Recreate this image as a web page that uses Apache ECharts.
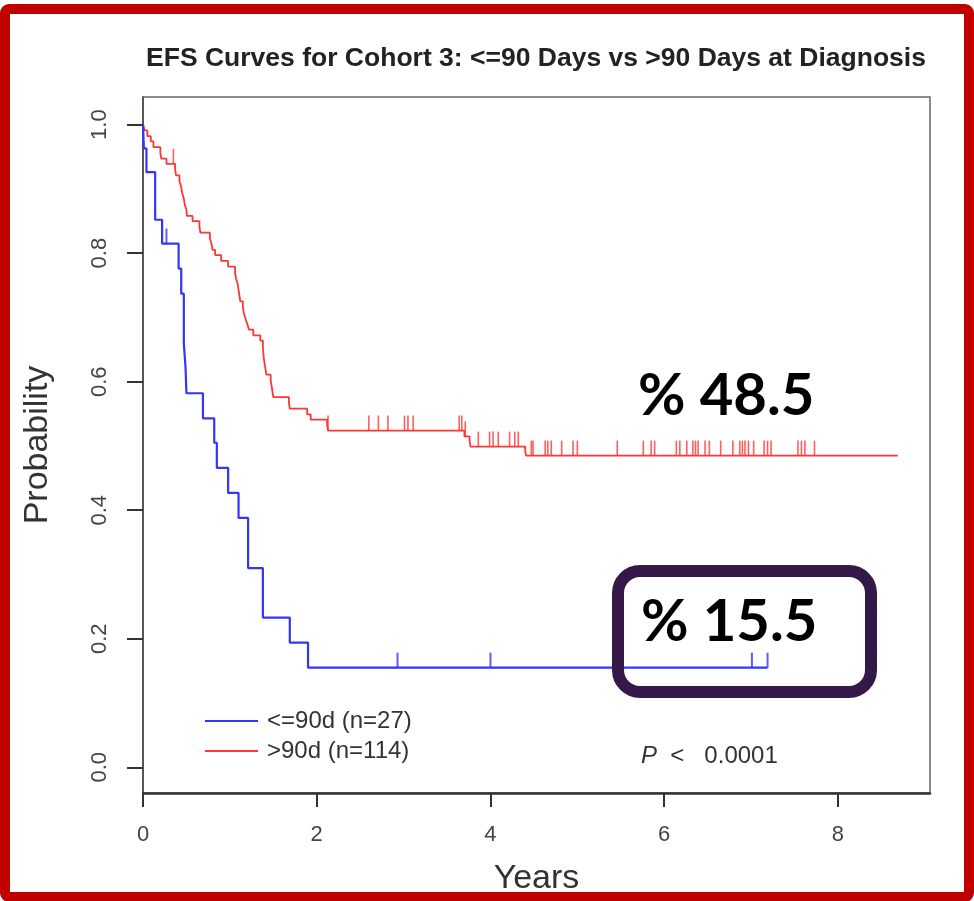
<!DOCTYPE html>
<html>
<head>
<meta charset="utf-8">
<script src="https://cdn.jsdelivr.net/npm/echarts@6/dist/echarts.min.js"></script>
<style>
  html, body { margin: 0; padding: 0; background: #fff; }
  #chart { width: 974px; height: 901px; }
</style>
</head>
<body>
<div id="chart"></div>
<script>
// Kaplan-Meier steps (years, survival)
const blueTimes = [0, 0.01, 0.04, 0.14, 0.22, 0.41, 0.44, 0.47, 0.49, 0.50, 0.69, 0.82, 0.85, 0.98, 1.10, 1.21, 1.38, 1.69, 1.90, 7.19];
const blueSurv = [1.0, 0.963, 0.926, 0.852, 0.815, 0.776, 0.737, 0.660, 0.621, 0.582, 0.543, 0.505, 0.466, 0.427, 0.388, 0.310, 0.233, 0.194, 0.155, 0.155];
const blueCensorTimes = [0.27, 2.93, 4.00, 7.01, 7.19];
const blueCensorSurv = [0.815, 0.155, 0.155, 0.155, 0.155];

const redTimes = [0, 0.02, 0.05, 0.09, 0.12, 0.20, 0.21, 0.27, 0.37, 0.38, 0.42, 0.44, 0.45, 0.47, 0.48, 0.50, 0.505,
  0.57, 0.65, 0.66, 0.77, 0.79, 0.80, 0.83, 0.90, 0.98, 1.06, 1.07, 1.09, 1.10, 1.11, 1.12, 1.15, 1.16, 1.18, 1.20,
  1.22, 1.27, 1.35, 1.38, 1.385, 1.39, 1.40, 1.41, 1.42, 1.47, 1.48, 1.49, 1.50, 1.68, 1.69, 1.89, 1.93, 2.12, 2.13,
  3.70, 3.76, 3.77, 4.40, 4.41, 8.69];
const redSurv = [1.0, 0.991, 0.982, 0.974, 0.965, 0.956, 0.947, 0.939, 0.930, 0.921, 0.912, 0.903, 0.894, 0.885, 0.876, 0.867, 0.858,
  0.850, 0.841, 0.832, 0.823, 0.814, 0.805, 0.797, 0.788, 0.779, 0.770, 0.761, 0.752, 0.743, 0.734, 0.725, 0.716, 0.707, 0.698, 0.690,
  0.681, 0.672, 0.664, 0.655, 0.646, 0.637, 0.628, 0.620, 0.611, 0.602, 0.594, 0.585, 0.576, 0.567, 0.558, 0.549, 0.541, 0.532, 0.524,
  0.515, 0.507, 0.499, 0.492, 0.485, 0.485];
const redCensorTimes = [0.35, 2.13, 2.60, 2.71, 2.82, 3.01, 3.05, 3.11, 3.64, 3.67, 3.71,
  3.86, 3.99, 4.03, 4.09, 4.22, 4.28, 4.32,
  4.47, 4.49, 4.63, 4.66, 4.70, 4.82, 4.95, 5.00, 5.46, 5.76, 5.85, 5.89, 6.14, 6.18, 6.26, 6.33, 6.36, 6.39,
  6.47, 6.52, 6.65, 6.79, 6.87, 6.90, 6.93, 6.97, 7.03, 7.15, 7.19, 7.23, 7.54, 7.58, 7.62, 7.73];
const redCensorSurv = [0.939, 0.524, 0.524, 0.524, 0.524, 0.524, 0.524, 0.524, 0.524, 0.524, 0.515,
  0.499, 0.499, 0.499, 0.499, 0.499, 0.499, 0.499,
  0.485, 0.485, 0.485, 0.485, 0.485, 0.485, 0.485, 0.485, 0.485, 0.485, 0.485, 0.485, 0.485, 0.485, 0.485, 0.485, 0.485, 0.485,
  0.485, 0.485, 0.485, 0.485, 0.485, 0.485, 0.485, 0.485, 0.485, 0.485, 0.485, 0.485, 0.485, 0.485, 0.485, 0.485];

const groupNames = ['<=90d (n=27)', '>90d (n=114)'];
const xTicks = [0, 2, 4, 6, 8];
const yTicks = [0, 0.2, 0.4, 0.6, 0.8, 1.0];

const blue = '#3434ff';
const red = '#ff3636';

const zip = (a, b) => a.map((v, i) => [v, b[i]]);

const chart = echarts.init(document.getElementById('chart'), null, { renderer: 'canvas' });

chart.setOption({
  backgroundColor: '#fff',
  animation: false,
  textStyle: { fontFamily: '"Liberation Sans", Arial, sans-serif' },
  grid: {
    left: 143, right: 44, top: 97, bottom: 104,
    show: true, borderColor: '#666', borderWidth: 1.5,
  },
  legend: {
    data: groupNames,
    orient: 'vertical',
    left: 200,
    top: 704,
    icon: 'rect',
    itemWidth: 53,
    itemHeight: 2.2,
    itemGap: 6,
    textStyle: { fontSize: 24, color: '#333', padding: [0, 0, 0, 4] },
  },
  xAxis: {
    type: 'value',
    min: 0,
    max: 9.06,
    axisLine: { show: true, onZero: false, lineStyle: { color: '#333', width: 2.5 } },
    axisTick: { show: true, customValues: xTicks, length: 14, lineStyle: { color: '#333', width: 2 } },
    axisLabel: { customValues: xTicks, fontSize: 22, color: '#444', margin: 31 },
    splitLine: { show: false },
    name: 'Years',
    nameLocation: 'middle',
    nameGap: 69,
    nameTextStyle: { fontSize: 34, color: '#333' },
  },
  yAxis: {
    type: 'value',
    min: -0.04,
    max: 1.043,
    axisLine: { show: true, onZero: false, lineStyle: { color: '#444', width: 1.5 } },
    axisTick: { show: true, customValues: yTicks, length: 16, lineStyle: { color: '#333', width: 2 } },
    axisLabel: {
      customValues: yTicks, fontSize: 22, color: '#444', rotate: 90, margin: 32,
      formatter: (v) => v.toFixed(1),
    },
    splitLine: { show: false },
    name: 'Probability',
    nameLocation: 'middle',
    nameGap: 88,
    nameTextStyle: { fontSize: 34, color: '#333' },
  },
  series: [
    {
      name: groupNames[0],
      type: 'line',
      step: 'end',
      symbol: 'none',
      data: zip(blueTimes, blueSurv),
      lineStyle: { color: blue, width: 2.2 },
      itemStyle: { color: blue },
      z: 4,
    },
    {
      name: groupNames[1],
      type: 'line',
      step: 'end',
      symbol: 'none',
      data: zip(redTimes, redSurv),
      lineStyle: { color: red, width: 1.8 },
      itemStyle: { color: red },
      z: 3,
    },
    {
      type: 'scatter',
      symbol: 'rect',
      symbolSize: [2, 15],
      symbolOffset: [0, -7.5],
      data: zip(blueCensorTimes, blueCensorSurv),
      itemStyle: { color: blue },
      z: 4,
    },
    {
      type: 'scatter',
      symbol: 'rect',
      symbolSize: [1.6, 15],
      symbolOffset: [0, -7.5],
      data: zip(redCensorTimes, redCensorSurv),
      itemStyle: { color: red },
      z: 3,
    },
  ],
  graphic: [
    {
      type: 'text', x: 536, y: 59, z: 10,
      style: {
        text: 'EFS Curves for Cohort 3: <=90 Days vs >90 Days at Diagnosis',
        font: 'bold 26.5px "Liberation Sans", Arial, sans-serif',
        fill: '#222', textAlign: 'center', textVerticalAlign: 'middle',
      },
    },
    {
      type: 'text', x: 638, y: 396, z: 10,
      style: { text: '% 48.5', font: 'bold 58px Lato, sans-serif', fill: '#000', textVerticalAlign: 'middle' },
    },
    {
      type: 'text', x: 641, y: 622, z: 10,
      style: { text: '% 15.5', font: 'bold 58px Lato, sans-serif', fill: '#000', textVerticalAlign: 'middle' },
    },
    {
      type: 'rect', z: 10,
      shape: { x: 618, y: 571, width: 253, height: 121, r: 22 },
      style: { fill: null, stroke: '#341848', lineWidth: 12 },
    },
    {
      type: 'text', x: 641, y: 756, z: 10,
      style: {
        text: '{i|P}  <   0.0001',
        font: '24px "Liberation Sans", Arial, sans-serif',
        fill: '#333', textVerticalAlign: 'middle',
        rich: { i: { fontStyle: 'italic', fontSize: 24, fill: '#333' } },
      },
    },
    {
      type: 'rect', z: 20,
      shape: { x: 5, y: 9, width: 964, height: 888, r: 4 },
      style: { fill: null, stroke: '#c00000', lineWidth: 10 },
    },
  ],
});
</script>
</body>
</html>
